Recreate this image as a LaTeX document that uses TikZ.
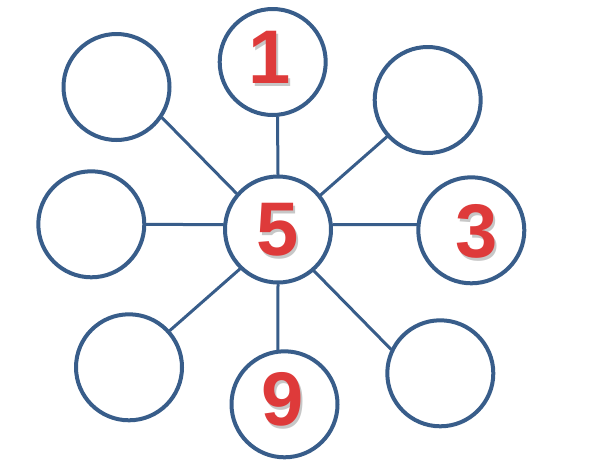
\documentclass[tikz,border=0pt]{standalone}
\usepackage{fontspec}
\setmainfont{Liberation Sans}
\definecolor{ringblue}{RGB}{56,93,138}
\definecolor{digitred}{RGB}{222,58,58}
\begin{document}
\begin{tikzpicture}[x=1pt,y=-1pt,line join=round,line cap=round,
  ring/.style={circle,draw=ringblue,line width=4pt,minimum size=106pt,inner sep=0pt},
  link/.style={draw=ringblue,line width=3pt},
  digit/.style={text=digitred,font=\bfseries\fontsize{76}{76}\selectfont,inner sep=0pt},
  shade/.style={digit,text=black!22}]
\useasboundingbox (0,0) rectangle (593,469);
\node[ring] (mid) at (278,229.5) {};
% outer rings: name / centre / anchor on mid / anchor on ring
\foreach \n/\x/\y/\a/\b in {top/272.7/62/90/-85,tl/116.5/87/139/-34,tr/427.7/100/39/-138,lft/91.3/224.3/175/0,rgt/471.3/230.3/5/174,bl/129/367.3/-134/42,bot/284.5/404.3/-90/97,br/440.3/373.3/-49/154}{
  \node[ring] (\n) at (\x,\y) {};
  \draw[link] (mid.\a) -- (\n.\b);}
% digits with a soft drop shadow
\foreach \n/\x/\y/\l in {one/270/57/1,five/278/230/5,three/477/231/3,nine/283/399/9}{
  \node[shade] (\n-s) at (\x+2,\y+3) {\l};
  \node[digit] (\n) at (\x,\y) {\l};}
\end{tikzpicture}
\end{document}
